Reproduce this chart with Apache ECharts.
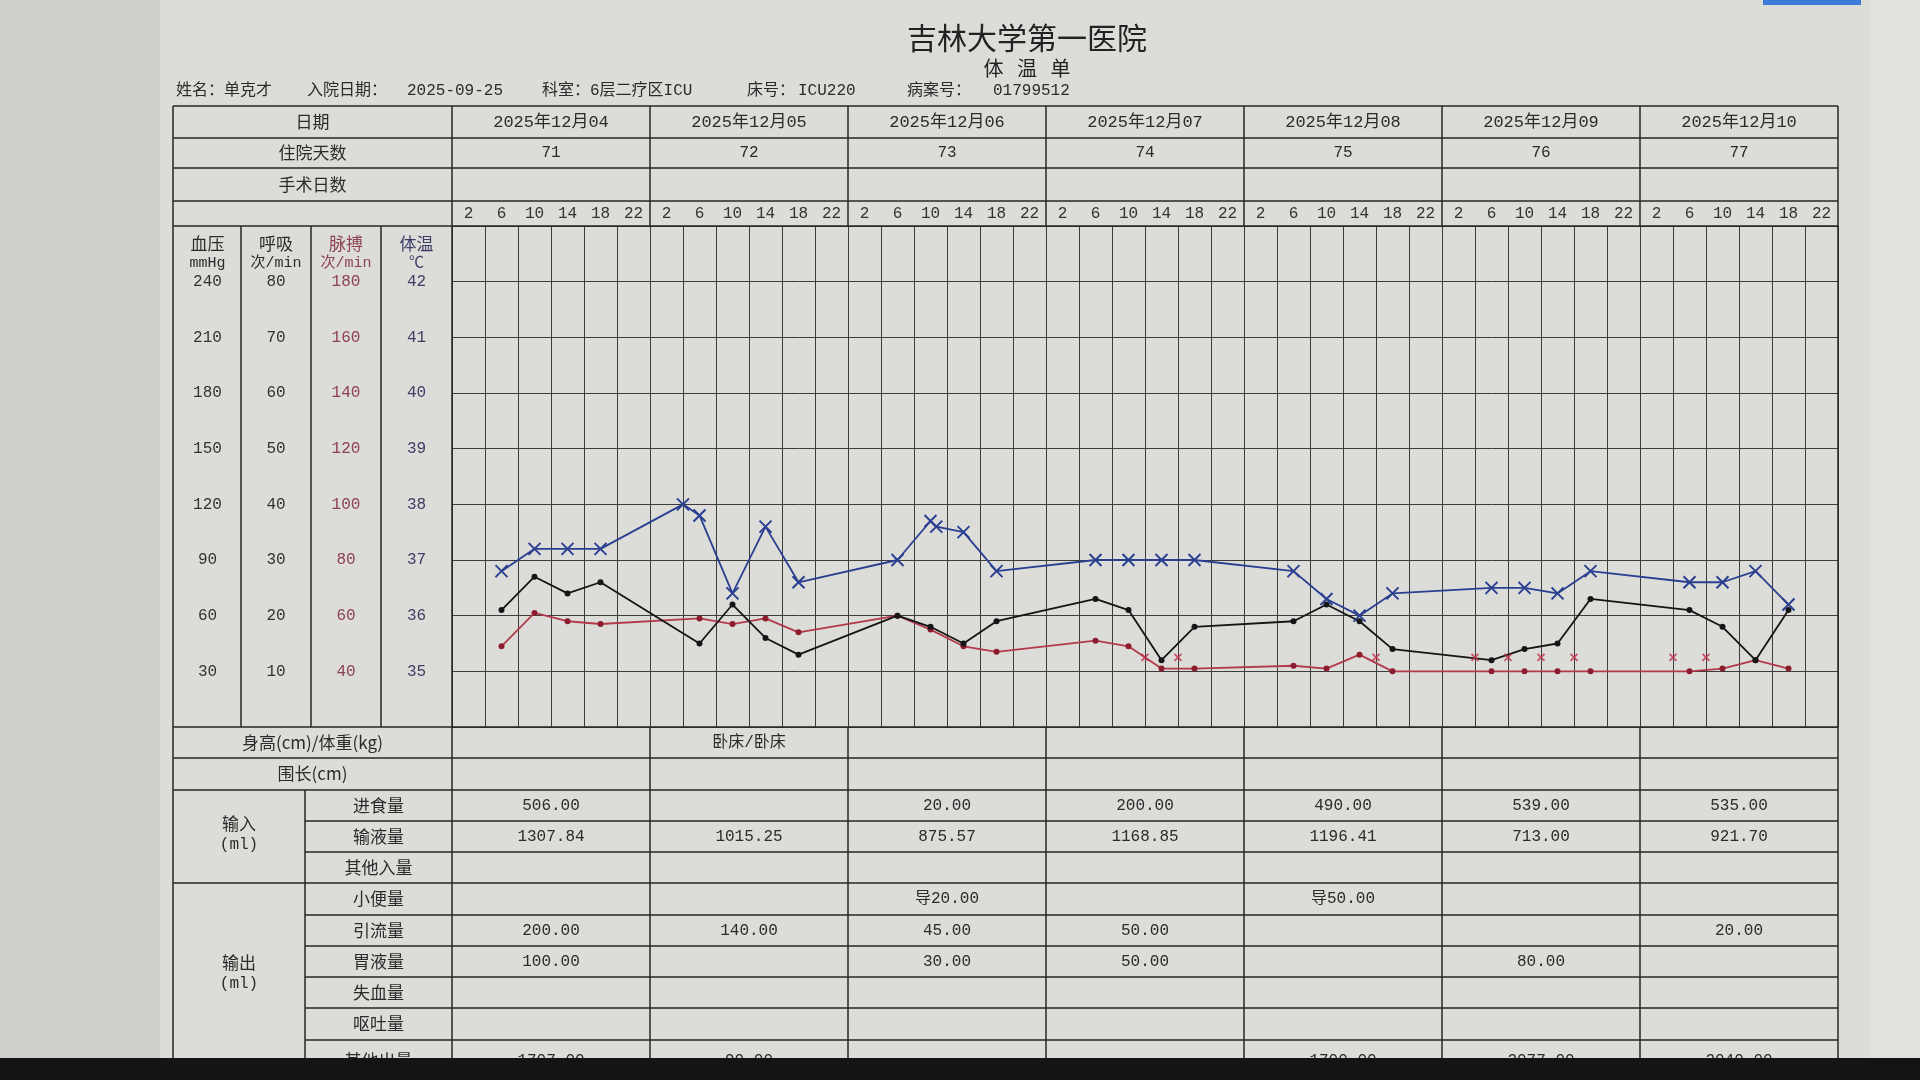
<!DOCTYPE html>
<html>
<head>
<meta charset="utf-8">
<title>体温单</title>
<script src="https://cdn.jsdelivr.net/npm/echarts@6/dist/echarts.min.js"></script>
<style>
  html, body { margin: 0; padding: 0; background: #dcdcd9; }
  #main { width: 1920px; height: 1080px; }
</style>
</head>
<body>
<div id="main"></div>
<script>
// 表头
const hospital = '吉林大学第一医院'
const sheetName = '体   温   单'
const infoTexts = ['姓名：单克才', '入院日期：', '2025-09-25', '科室：6层二疗区ICU', '床号：', 'ICU220', '病案号：', '01799512']
const dates = ['2025年12月04', '2025年12月05', '2025年12月06', '2025年12月07', '2025年12月08', '2025年12月09', '2025年12月10']
const stayDays = ['71', '72', '73', '74', '75', '76', '77']
const hourLabels = ['2', '6', '10', '14', '18', '22']

// 体温 ℃ （横坐标：从12月04日0点起的小时数）
const tempHours = [6, 10, 14, 18, 28, 30, 34, 38, 42, 54, 58, 58.7, 62, 66, 78, 82, 86, 90, 102, 106, 110, 114, 126, 130, 134, 138, 150, 154, 158, 162]
const tempValues = [36.8, 37.2, 37.2, 37.2, 38.0, 37.8, 36.4, 37.6, 36.6, 37.0, 37.7, 37.6, 37.5, 36.8, 37.0, 37.0, 37.0, 37.0, 36.8, 36.3, 36.0, 36.4, 36.5, 36.5, 36.4, 36.8, 36.6, 36.6, 36.8, 36.2]

// 呼吸、脉搏 共用时间点
const vitalHours = [6, 10, 14, 18, 30, 34, 38, 42, 54, 58, 62, 66, 78, 82, 86, 90, 102, 106, 110, 114, 126, 130, 134, 138, 150, 154, 158, 162]
const respValues = [21, 27, 24, 26, 15, 22, 16, 13, 20, 18, 15, 19, 23, 21, 12, 18, 19, 22, 19, 14, 12, 14, 15, 23, 21, 18, 12, 21]
const pulseValues = [49, 61, 58, 57, 59, 57, 59, 54, 60, 55, 49, 47, 51, 49, 41, 41, 42, 41, 46, 40, 40, 40, 40, 40, 40, 41, 44, 41]

// 红色小叉标记
const markHours = [84, 88, 112, 124, 128, 132, 136, 148, 152]
const markValues = [45, 45, 45, 45, 45, 45, 45, 45, 45]

// 底部出入量表
const rowLabels = ['进食量', '输液量', '其他入量', '小便量', '引流量', '胃液量', '失血量', '呕吐量', '其他出量']
const heightWeight = ['', '卧床/卧床', '', '', '', '', '']
const girth = ['', '', '', '', '', '', '']
const foodIn = ['506.00', '', '20.00', '200.00', '490.00', '539.00', '535.00']
const fluidIn = ['1307.84', '1015.25', '875.57', '1168.85', '1196.41', '713.00', '921.70']
const otherIn = ['', '', '', '', '', '', '']
const urineOut = ['', '', '导20.00', '', '导50.00', '', '']
const drainOut = ['200.00', '140.00', '45.00', '50.00', '', '', '20.00']
const gastricOut = ['100.00', '', '30.00', '50.00', '', '80.00', '']
const bloodOut = ['', '', '', '', '', '', '']
const vomitOut = ['', '', '', '', '', '', '']
const otherOut = ['1707.00', '90.00', '', '', '1700.00', '2077.00', '2040.00']

const CN = '"Noto Sans CJK SC", sans-serif'
const NUM = '"Liberation Mono", "Noto Sans CJK SC", monospace'
const GRID = '#3c3c3c'
const LINE = '#262626'
const BLUE = '#2b3f91'
const RED = '#b23a4c'

// 版面
const L = 173, LC = 452, R = 1838, GRP = 305
const colBP = 241, colResp = 311, colPulse = 381
const headRows = [106, 138, 168, 201, 226]
const bodyRows = [727, 758, 790, 821, 852, 883, 915, 946, 977, 1008, 1040, 1071]

const hourCats = []
dates.forEach(() => hourLabels.forEach(h => hourCats.push(h)))
const zip = (hs, vs) => hs.map((h, i) => [h, vs[i]])
const X_PATH = 'path://M0,0L10,10M10,0L0,10'

const chart = echarts.init(document.getElementById('main'))
const yAx = (min, max, interval, show, margin, color, split) => ({
  type: 'value', position: 'left', offset: 0, min, max, interval,
  axisLine: { show: false }, axisTick: { show: false },
  axisLabel: {
    align: 'center', margin, color, fontSize: 16, fontFamily: NUM,
    formatter: v => (v >= show[0] && v <= show[1]) ? String(v) : ''
  },
  splitLine: { show: split, lineStyle: { color: GRID, width: 1 } }
})

chart.setOption({
  backgroundColor: '#dcdcd9',
  animation: false,
  grid: { left: LC, right: 1920 - R, top: 226, bottom: 1080 - 727 },
  xAxis: [
    {
      type: 'value', min: 0, max: 168, interval: 4,
      axisLine: { show: false }, axisTick: { show: false }, axisLabel: { show: false },
      splitLine: { show: true, lineStyle: { color: GRID, width: 1 } }
    },
    {
      type: 'category', position: 'top', data: hourCats, boundaryGap: true,
      axisLine: { show: false }, axisTick: { show: false }, splitLine: { show: false },
      axisLabel: { interval: 0, margin: 12, verticalAlign: 'middle', fontSize: 16, color: '#333', fontFamily: NUM }
    }
  ],
  yAxis: [
    yAx(34, 43, 1, [35, 42], LC - 416.5, '#3d3d66', true),   // 体温
    yAx(20, 200, 20, [40, 180], LC - 346, '#8e4150', false), // 脉搏
    yAx(0, 90, 10, [10, 80], LC - 276, '#333', false),       // 呼吸
    yAx(0, 270, 30, [30, 240], LC - 207.5, '#333', false)    // 血压
  ],
  series: [
    {
      name: '脉搏', type: 'line', xAxisIndex: 0, yAxisIndex: 1, data: zip(vitalHours, pulseValues),
      symbol: 'circle', symbolSize: 6, z: 3,
      lineStyle: { color: RED, width: 1.8 }, itemStyle: { color: '#8c1d2e' }
    },
    {
      name: '呼吸', type: 'line', xAxisIndex: 0, yAxisIndex: 2, data: zip(vitalHours, respValues),
      symbol: 'circle', symbolSize: 6, z: 4,
      lineStyle: { color: '#151515', width: 1.8 }, itemStyle: { color: '#151515' }
    },
    {
      name: '体温', type: 'line', xAxisIndex: 0, yAxisIndex: 0, data: zip(tempHours, tempValues),
      symbol: X_PATH, symbolSize: 12, z: 5,
      lineStyle: { color: BLUE, width: 1.8 }, itemStyle: { color: BLUE, borderColor: BLUE, borderWidth: 2 }
    },
    {
      name: '标记', type: 'scatter', xAxisIndex: 0, yAxisIndex: 1, data: zip(markHours, markValues),
      symbol: X_PATH, symbolSize: 7, z: 4,
      itemStyle: { color: '#c0304a', borderColor: '#c0304a', borderWidth: 1.8 }
    }
  ]
})

const px = h => chart.convertToPixel({ xAxisIndex: 0 }, h)
const g = []
const hline = (x1, x2, y, w) => g.push({ type: 'line', z: 5, silent: true, shape: { x1, y1: y, x2, y2: y }, style: { stroke: LINE, lineWidth: w || 1.5 } })
const vline = (x, y1, y2, w) => g.push({ type: 'line', z: 5, silent: true, shape: { x1: x, y1, x2: x, y2 }, style: { stroke: LINE, lineWidth: w || 1.5 } })
const text = (t, x, y, opt) => g.push({
  type: 'text', z: 6, silent: true, x, y,
  style: Object.assign({ text: t, font: '16px ' + NUM, fill: '#2b2b2b', textAlign: 'center', textVerticalAlign: 'middle', align: 'center', verticalAlign: 'middle' }, opt || {})
})

// 页边
g.push({ type: 'rect', z: -10, silent: true, shape: { x: 0, y: 0, width: 160, height: 1080 }, style: { fill: '#cfcfcc' } })
g.push({ type: 'rect', z: -10, silent: true, shape: { x: 1870, y: 0, width: 50, height: 1080 }, style: { fill: '#e2e2df' } })
g.push({ type: 'rect', z: 100, silent: true, shape: { x: 1763, y: 0, width: 98, height: 5 }, style: { fill: '#3b7bd8' } })

// 标题
text(hospital, 1027, 38, { font: '30px ' + CN, fill: '#222' })
text(sheetName, 1027, 68, { font: '20px ' + CN, fill: '#222' })
const infoX = [176, 307, 407, 542, 747, 798, 907, 993]
infoTexts.forEach((t, i) => text(t, infoX[i], 91, { font: '16px ' + NUM, textAlign: 'left', align: 'left' }))

// 表头线
headRows.forEach(y => hline(L, R, y))
vline(L, headRows[0], bodyRows[bodyRows.length - 1])
vline(LC, headRows[0], bodyRows[bodyRows.length - 1])
vline(R, headRows[0], bodyRows[bodyRows.length - 1])
for (let d = 1; d < dates.length; d++) {
  vline(px(d * 24), headRows[0], headRows[4])
  vline(px(d * 24), bodyRows[0], bodyRows[bodyRows.length - 1])
}
;[colBP, colResp, colPulse].forEach(x => vline(x, 226, 727))

const midL = (L + LC) / 2
text('日期', midL, 122, { font: '17px ' + CN })
text('住院天数', midL, 153, { font: '17px ' + CN })
text('手术日数', midL, 184.5, { font: '17px ' + CN })
dates.forEach((t, d) => {
  text(t, px(d * 24 + 12), 122, { font: '17px ' + NUM })
  text(stayDays[d], px(d * 24 + 12), 153, { font: '16px ' + NUM })
})

// 坐标列标题
const heads = [['血压', 'mmHg', 207.5, '#2b2b2b'], ['呼吸', '次/min', 276, '#2b2b2b'], ['脉搏', '次/min', 346, '#8e4150'], ['体温', '℃', 416.5, '#3d3d66']]
heads.forEach(h => {
  text(h[0], h[2], 244, { font: '17px ' + CN, fill: h[3] })
  text(h[1], h[2], 263, { font: '15px ' + NUM, fill: h[3] })
})

// 底部表格
hline(L, R, bodyRows[0]); hline(L, R, bodyRows[1]); hline(L, R, bodyRows[2]); hline(L, R, bodyRows[5])
;[3, 4, 6, 7, 8, 9, 10].forEach(i => hline(GRP, R, bodyRows[i]))
vline(GRP, bodyRows[2], bodyRows[bodyRows.length - 1])
const rowMid = i => (i === 10 ? 1061 : (bodyRows[i] + bodyRows[i + 1]) / 2)
text('身高(cm)/体重(kg)', midL, rowMid(0), { font: '17px ' + CN })
text('围长(cm)', midL, rowMid(1), { font: '17px ' + CN })
text('输入', (L + GRP) / 2, 824, { font: '17px ' + CN })
text('(ml)', (L + GRP) / 2, 845, { font: '16px ' + NUM })
text('输出', (L + GRP) / 2, 963, { font: '17px ' + CN })
text('(ml)', (L + GRP) / 2, 984, { font: '16px ' + NUM })
rowLabels.forEach((t, i) => text(t, (GRP + LC) / 2, rowMid(i + 2), { font: '17px ' + CN }))

const tableRows = [heightWeight, girth, foodIn, fluidIn, otherIn, urineOut, drainOut, gastricOut, bloodOut, vomitOut, otherOut]
tableRows.forEach((row, i) => row.forEach((v, d) => {
  if (v) text(v, px(d * 24 + 12), rowMid(i), { font: '16px ' + NUM })
}))

// 屏幕下边缘
g.push({ type: 'rect', z: 100, silent: true, shape: { x: 0, y: 1058, width: 1920, height: 22 }, style: { fill: '#141414' } })

chart.setOption({ graphic: { elements: g } })
</script>
</body>
</html>
